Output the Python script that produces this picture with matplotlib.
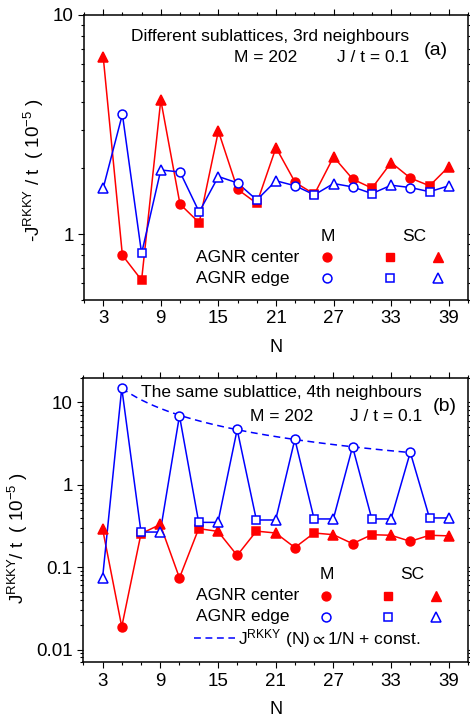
"""RKKY coupling vs ribbon width N, two log-scale panels"""

import numpy as np
import matplotlib
matplotlib.use("Agg")
import matplotlib.pyplot as plt
from matplotlib.ticker import LogLocator, FixedLocator, MultipleLocator, FuncFormatter, NullFormatter

plt.rcParams['font.family'] = ['Liberation Sans', 'DejaVu Sans']
plt.rcParams['mathtext.fontset'] = 'custom'
plt.rcParams['mathtext.rm'] = 'Liberation Sans'
plt.rcParams['mathtext.it'] = 'Liberation Sans:italic'
plt.rcParams['mathtext.fallback'] = 'stixsans'

RED = '#ff0000'
BLUE = '#0000ff'

N = np.arange(3, 40, 2)

# panel (a): -J_RKKY / t (1e-5), different sublattices, 3rd neighbours
a_center = [6.45, 0.80, 0.616, 4.09, 1.37, 1.126, 2.95, 1.60, 1.38, 2.48,
            1.72, 1.52, 2.25, 1.78, 1.62, 2.12, 1.80, 1.66, 2.03]
a_edge = [1.62, 3.52, 0.816, 1.96, 1.92, 1.26, 1.83, 1.71, 1.43, 1.75,
          1.66, 1.51, 1.70, 1.64, 1.53, 1.67, 1.63, 1.56, 1.66]

# panel (b): J_RKKY / t (1e-5), same sublattice, 4th neighbours
b_center = [0.294, 0.0189, 0.255, 0.33, 0.074, 0.294, 0.272, 0.139, 0.274, 0.26,
            0.173, 0.26, 0.248, 0.193, 0.248, 0.244, 0.206, 0.244, 0.24]
b_edge = [0.073, 15.0, 0.267, 0.267, 6.9, 0.35, 0.35, 4.7, 0.374, 0.374,
          3.58, 0.385, 0.385, 2.9, 0.385, 0.385, 2.48, 0.396, 0.396]

xticks = [3, 9, 15, 21, 27, 33, 39]


def marker_groups():
    """M: N = 3p+2, SC: N = 3p+1 and N = 3p"""
    return [
        (N % 3 == 2, 'o', 6.4),
        (N % 3 == 1, 's', 5.8),
        (N % 3 == 0, '^', 7.6),
    ]


def plot_series(ax, y, color, filled):
    y = np.asarray(y)
    ax.plot(N, y, '-', color=color, lw=1.1, zorder=2)
    for mask, m, ms in marker_groups():
        ax.plot(N[mask], y[mask], ls='none', marker=m, ms=ms,
                mfc=color if filled else 'white', mec=color, mew=1.1, zorder=3)


def style_axes(ax, ylim, labelled):
    ax.set_yscale('log')
    ax.set_xlim(1, 41)
    ax.set_ylim(*ylim)
    ax.xaxis.set_major_locator(FixedLocator(xticks))
    ax.xaxis.set_minor_locator(MultipleLocator(2, offset=1))
    ax.yaxis.set_major_locator(FixedLocator(labelled))
    ax.yaxis.set_minor_locator(LogLocator(base=10, subs=np.arange(2, 10), numticks=20))
    ax.yaxis.set_major_formatter(FuncFormatter(lambda v, p: '%g' % v))
    ax.yaxis.set_minor_formatter(NullFormatter())
    ax.tick_params(which='both', direction='out', top=True, right=True,
                   labelsize=13.5, width=0.8, pad=3)
    ax.tick_params(which='major', length=4.5)
    ax.tick_params(which='minor', length=2.5)
    for s in ax.spines.values():
        s.set_linewidth(1.1)


def table_legend(ax, ym, yc, ye, xm):
    kw = dict(transform=ax.transAxes, fontsize=12.5, va='center')
    ax.text(xm[0], ym, 'M', ha='center', **kw)
    ax.text((xm[1] + xm[2]) / 2, ym, 'SC', ha='center', **kw)
    ax.text(0.292, yc, 'AGNR center', ha='left', **kw)
    ax.text(0.292, ye, 'AGNR edge', ha='left', **kw)
    for (mask, m, ms), x in zip(marker_groups(), xm):
        ax.plot(x, yc, marker=m, ms=ms, color=RED, mec=RED, transform=ax.transAxes,
                clip_on=False)
        ax.plot(x, ye, marker=m, ms=ms, mfc='white', mec=BLUE, mew=1.1,
                transform=ax.transAxes, clip_on=False)


def panel_a(ax):
    plot_series(ax, a_center, RED, True)
    plot_series(ax, a_edge, BLUE, False)
    style_axes(ax, (0.5, 10), [1, 10])
    ax.set_xlabel('N', fontsize=13)
    ax.xaxis.set_label_coords(0.5, -0.138)
    ax.set_ylabel(r'-J$^{\rm RKKY}$ / t  ( 10$^{-5}$ )', fontsize=13.5)
    ax.yaxis.set_label_coords(-0.10, 0.456)
    kw = dict(transform=ax.transAxes, fontsize=12.5, va='center')
    ax.text(0.846, 0.924, 'Different sublattices, 3rd neighbours', ha='right', **kw)
    ax.text(0.391, 0.849, 'M = 202', ha='left', **kw)
    ax.text(0.846, 0.849, 'J / t = 0.1', ha='right', **kw)
    ax.text(0.917, 0.877, '(a)', ha='center', transform=ax.transAxes,
            fontsize=14, va='center')
    table_legend(ax, 0.222, 0.150, 0.076, [0.634, 0.797, 0.921])


def panel_b(ax):
    bm = np.asarray(b_edge)
    mask = N % 3 == 2
    # fit J = a/N + c to the M-type edge points
    slope, const = np.polyfit(1.0 / N[mask], bm[mask], 1)
    nn = np.linspace(N[mask][0], N[mask][-1], 200)
    ax.plot(nn, slope / nn + const, '--', color=BLUE, lw=1.1, dashes=(4.5, 3), zorder=1)

    plot_series(ax, b_center, RED, True)
    plot_series(ax, b_edge, BLUE, False)
    style_axes(ax, (0.007, 20), [0.01, 0.1, 1, 10])
    ax.set_xlabel('N', fontsize=13)
    ax.xaxis.set_label_coords(0.5, -0.135)
    ax.set_ylabel(r'J$^{\rm RKKY}$/ t  ( 10$^{-5}$ )', fontsize=13.5)
    ax.yaxis.set_label_coords(-0.139, 0.437)
    kw = dict(transform=ax.transAxes, fontsize=12.5, va='center')
    ax.text(0.88, 0.949, 'The same sublattice, 4th neighbours', ha='right', **kw)
    ax.text(0.433, 0.863, 'M = 202', ha='left', **kw)
    ax.text(0.88, 0.863, 'J / t = 0.1', ha='right', **kw)
    ax.text(0.94, 0.898, '(b)', ha='center', transform=ax.transAxes,
            fontsize=14, va='center')
    table_legend(ax, 0.307, 0.234, 0.160, [0.632, 0.793, 0.918])
    ax.plot([0.288, 0.394], [0.0843, 0.0843], '--', color=BLUE, lw=1.1,
            dashes=(4.5, 3), transform=ax.transAxes)
    ax.text(0.402, 0.0843, r'J$^{\rm RKKY}$ (N)$\propto$1/N + const.', ha='left', **kw)


def main():
    fig = plt.figure(figsize=(4.70, 7.19), dpi=100)
    ax1 = fig.add_axes([0.1787, 0.5828, 0.817, 0.3964])
    ax2 = fig.add_axes([0.1772, 0.0789, 0.8185, 0.3958])
    panel_a(ax1)
    panel_b(ax2)
    fig.savefig('out.png', dpi=100)


if __name__ == "__main__":
    main()
